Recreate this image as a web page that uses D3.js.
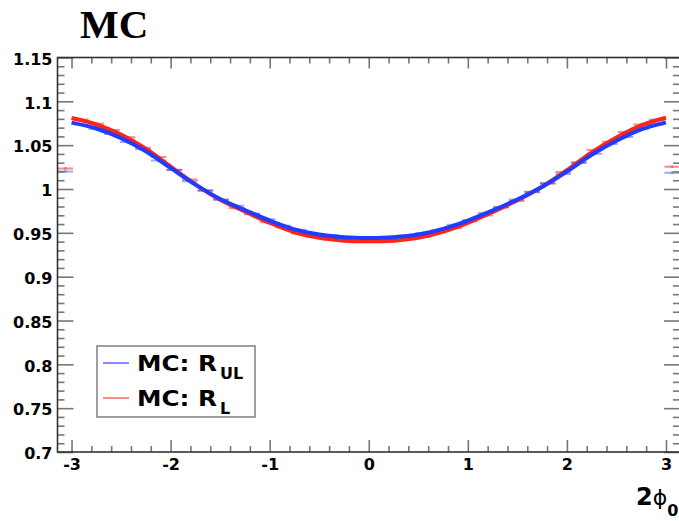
<!DOCTYPE html>
<html>
<head>
<meta charset="utf-8">
<script src="https://cdn.jsdelivr.net/npm/d3@7/dist/d3.min.js"></script>
<style>
  html, body { margin: 0; padding: 0; background: #fff; }
  svg { display: block; }
</style>
</head>
<body>
<svg id="chart" width="679" height="521"></svg>
<script>
// ---------------- data ----------------
const xDomain = [-Math.PI, Math.PI];
const yDomain = [0.7, 1.15];
const nBins = 40;

const xMajorTicks = [-3, -2, -1, 0, 1, 2, 3];
const xTickLabels = ["-3", "-2", "-1", "0", "1", "2", "3"];
const yMajorTicks = [0.7, 0.75, 0.8, 0.85, 0.9, 0.95, 1.0, 1.05, 1.1, 1.15];
const yTickLabels = ["0.7", "0.75", "0.8", "0.85", "0.9", "0.95", "1", "1.05", "1.1", "1.15"];

// histogram bins (MC: R_UL, blue) and (MC: R_L, red)
const binsUL = [1.0200, 1.0738, 1.0684, 1.0628, 1.0535, 1.0452, 1.0325, 1.0218, 1.0088, 0.9990,
                0.9878, 0.9808, 0.9720, 0.9655, 0.9582, 0.9534, 0.9488, 0.9470, 0.9446, 0.9448,
                0.9446, 0.9452, 0.9464, 0.9497, 0.9530, 0.9592, 0.9646, 0.9727, 0.9794, 0.9881,
                0.9962, 1.0069, 1.0170, 1.0298, 1.0402, 1.0514, 1.0592, 1.0686, 1.0735, 1.0186];
const binsL  = [1.0235, 1.0792, 1.0745, 1.0672, 1.0590, 1.0470, 1.0365, 1.0220, 1.0108, 0.9978,
                0.9880, 0.9782, 0.9712, 0.9620, 0.9560, 0.9492, 0.9460, 0.9425, 0.9412, 0.9402,
                0.9408, 0.9410, 0.9433, 0.9452, 0.9505, 0.9555, 0.9630, 0.9698, 0.9790, 0.9862,
                0.9970, 1.0060, 1.0195, 1.0305, 1.0445, 1.0538, 1.0650, 1.0735, 1.0790, 1.0255];
const binErr = 0.0015;

// fitted curves, sampled
const fitX   = [-3.00, -2.75, -2.50, -2.25, -2.00, -1.75, -1.50, -1.25, -1.00, -0.75, -0.50, -0.25,
                 0.00, 0.25, 0.50, 0.75, 1.00, 1.25, 1.50, 1.75, 2.00, 2.25, 2.50, 2.75, 3.00];
const fitUL  = [1.0757, 1.0690, 1.0580, 1.0430, 1.0240, 1.0050, 0.9886, 0.9760, 0.9640, 0.9540, 0.9480, 0.9450,
                0.9442, 0.9450, 0.9480, 0.9545, 0.9640, 0.9755, 0.9880, 1.0025, 1.0200, 1.0390, 1.0550, 1.0680, 1.0760];
const fitL   = [1.0810, 1.0738, 1.0620, 1.0460, 1.0256, 1.0053, 0.9878, 0.9743, 0.9614, 0.9507, 0.9443, 0.9411,
                0.9403, 0.9411, 0.9443, 0.9513, 0.9614, 0.9737, 0.9871, 1.0026, 1.0214, 1.0417, 1.0588, 1.0727, 1.0813];

// ---------------- drawing ----------------
const svg = d3.select("#chart");
const frame = { left: 57.5, right: 680, top: 57.5, bottom: 452 };

const x = d3.scaleLinear().domain(xDomain).range([frame.left, frame.right]);
const y = d3.scaleLinear().domain(yDomain).range([frame.bottom, frame.top]);

svg.append("defs").append("clipPath").attr("id", "clip")
  .append("rect").attr("x", frame.left).attr("y", frame.top)
  .attr("width", frame.right - frame.left).attr("height", frame.bottom - frame.top);

const plot = svg.append("g").attr("clip-path", "url(#clip)");

const binW = (xDomain[1] - xDomain[0]) / nBins;
function drawBins(vals, color) {
  const g = plot.append("g").attr("stroke", color).attr("stroke-width", 2).attr("fill", "none");
  vals.forEach((v, i) => {
    const lo = xDomain[0] + i * binW, hi = lo + binW, c = lo + binW / 2;
    g.append("line").attr("x1", x(lo)).attr("x2", x(hi)).attr("y1", y(v)).attr("y2", y(v));
    g.append("line").attr("x1", x(c)).attr("x2", x(c)).attr("y1", y(v - binErr)).attr("y2", y(v + binErr));
  });
}
drawBins(binsL, "rgba(255,40,40,0.55)");
drawBins(binsUL, "rgba(40,60,255,0.45)");

const line = d3.line().x(d => x(d[0])).y(d => y(d[1])).curve(d3.curveCatmullRom);
plot.append("path").datum(fitX.map((v, i) => [v, fitL[i]]))
  .attr("d", line).attr("fill", "none").attr("stroke", "#ff2418").attr("stroke-width", 4);
plot.append("path").datum(fitX.map((v, i) => [v, fitUL[i]]))
  .attr("d", line).attr("fill", "none").attr("stroke", "#1f3cff").attr("stroke-width", 4);

// ---------------- axes ----------------
const tickColor = "#777";
function styleAxis(g) {
  g.select(".domain").remove();
  g.selectAll(".tick line").attr("stroke", tickColor).attr("stroke-width", 1.6);
  g.selectAll("text").attr("font-family", "'DejaVu Sans', sans-serif")
    .attr("font-weight", "bold").attr("font-size", 16).attr("fill", "#000");
}
const yMinor = d3.range(70, 116, 1).map(d => d / 100).filter(v => !yMajorTicks.some(m => Math.abs(m - v) < 1e-6));
const xMinor = d3.range(-15, 16, 1).map(d => d / 5).filter(v => !xMajorTicks.some(m => Math.abs(m - v) < 1e-6));

// left
svg.append("g").attr("transform", `translate(${frame.left},0)`)
  .call(d3.axisLeft(y).tickValues(yMajorTicks).tickSize(-16).tickPadding(5)
    .tickFormat((d, i) => yTickLabels[i])).call(styleAxis)
  .selectAll("text").attr("dy", "0.42em");
svg.append("g").attr("transform", `translate(${frame.left},0)`)
  .call(d3.axisLeft(y).tickValues(yMinor).tickSize(-7).tickFormat("")).call(styleAxis);
// right
svg.append("g").attr("transform", `translate(${frame.right},0)`)
  .call(d3.axisRight(y).tickValues(yMajorTicks).tickSize(-16).tickFormat("")).call(styleAxis);
svg.append("g").attr("transform", `translate(${frame.right},0)`)
  .call(d3.axisRight(y).tickValues(yMinor).tickSize(-7).tickFormat("")).call(styleAxis);
// bottom
svg.append("g").attr("transform", `translate(0,${frame.bottom})`)
  .call(d3.axisBottom(x).tickValues(xMajorTicks).tickSize(-12).tickPadding(7)
    .tickFormat((d, i) => xTickLabels[i])).call(styleAxis);
svg.append("g").attr("transform", `translate(0,${frame.bottom})`)
  .call(d3.axisBottom(x).tickValues(xMinor).tickSize(-6).tickFormat("")).call(styleAxis);
// top
svg.append("g").attr("transform", `translate(0,${frame.top})`)
  .call(d3.axisTop(x).tickValues(xMajorTicks).tickSize(-11).tickFormat("")).call(styleAxis);
svg.append("g").attr("transform", `translate(0,${frame.top})`)
  .call(d3.axisTop(x).tickValues(xMinor).tickSize(-6).tickFormat("")).call(styleAxis);

// frame
svg.append("rect").attr("x", frame.left).attr("y", frame.top)
  .attr("width", frame.right - frame.left).attr("height", frame.bottom - frame.top)
  .attr("fill", "none").attr("stroke", "#333").attr("stroke-width", 1.6);

// ---------------- title & labels ----------------
svg.append("text").attr("x", 80).attr("y", 38)
  .attr("font-family", "'Liberation Serif', 'Times New Roman', serif")
  .attr("font-weight", "bold").attr("font-size", 41).attr("fill", "#000").text("MC");

const xt = svg.append("text").attr("x", 636).attr("y", 505)
  .attr("font-family", "'DejaVu Sans', sans-serif").attr("fill", "#000");
xt.append("tspan").attr("font-weight", "bold").attr("font-size", 24).text("2");
xt.append("tspan").attr("font-size", 22).text("ϕ");
xt.append("tspan").attr("font-weight", "bold").attr("font-size", 16).attr("dy", 11).text("0");

// legend
const legendItems = [
  { main: "MC: R", sub: "UL", color: "#8a8aff" },
  { main: "MC: R", sub: "L", color: "#ff8a8a" }
];
const lg = svg.append("g");
lg.append("rect").attr("x", 97).attr("y", 346).attr("width", 158).attr("height", 71)
  .attr("fill", "#fff").attr("stroke", "#777").attr("stroke-width", 1.4);
legendItems.forEach((it, i) => {
  const cy = 363 + i * 35;
  lg.append("line").attr("x1", 103).attr("x2", 129).attr("y1", cy).attr("y2", cy)
    .attr("stroke", it.color).attr("stroke-width", 2);
  lg.append("text").attr("x", 137).attr("y", cy + 8)
    .attr("font-family", "'DejaVu Sans', sans-serif").attr("font-weight", "bold")
    .attr("font-size", 21).attr("fill", "#000")
    .attr("textLength", 80).attr("lengthAdjust", "spacingAndGlyphs").text(it.main);
  lg.append("text").attr("x", 220).attr("y", cy + 16)
    .attr("font-family", "'DejaVu Sans', sans-serif").attr("font-weight", "bold")
    .attr("font-size", 16).attr("fill", "#000").text(it.sub);
});
</script>
</body>
</html>
